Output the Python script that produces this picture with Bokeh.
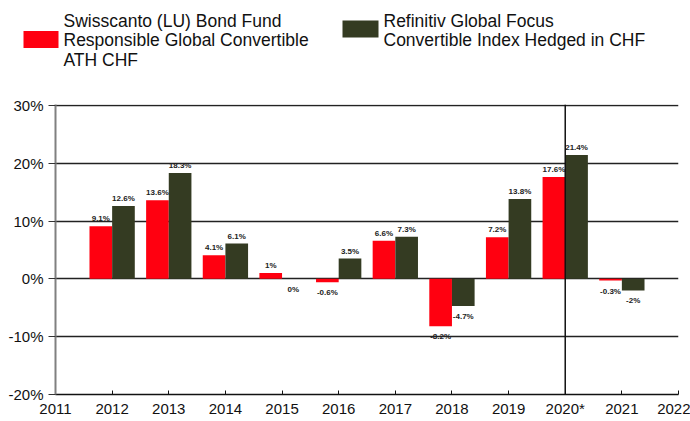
from bokeh.plotting import figure
from bokeh.layouts import column
from bokeh.models import Range1d, Span, FixedTicker, ColumnDataSource
from bokeh.transform import dodge
from bokeh.core.properties import value
from bokeh.embed import file_html
from bokeh.resources import INLINE

# ---- data ----
years = [2012, 2013, 2014, 2015, 2016, 2017, 2018, 2019, 2020, 2021]
fund = [9.1, 13.6, 4.1, 1.0, -0.6, 6.6, -8.2, 7.2, 17.6, -0.3]
index = [12.6, 18.3, 6.1, 0.0, 3.5, 7.3, -4.7, 13.8, 21.4, -2.0]
x_ticks = list(range(2011, 2023))
x_tick_labels = {2020: "2020*"}
y_ticks = [-20, -10, 0, 10, 20, 30]
fund_name = "Swisscanto (LU) Bond Fund\nResponsible Global Convertible\nATH CHF"
index_name = "Refinitiv Global Focus\nConvertible Index Hedged in CHF"

RED = "#FF0010"
OLIVE = "#343B22"
FONT = "Liberation Sans"
BORDER_L, BORDER_R = 55, 12
LEG_H = 90


def lbl(v):
    return f"{v:g}%"


def build_source(vals):
    return ColumnDataSource(dict(
        year=years,
        val=vals,
        lbl=[lbl(v) for v in vals],
        base=["bottom" if v > 0 else "top" for v in vals],
        yoff=[-3 if v > 0 else 6 for v in vals],
    ))


src_f = build_source(fund)
src_i = build_source(index)

# ---- legend strip (pixel coordinates; frame aligned with main frame) ----
leg = figure(width=690, height=LEG_H, output_backend="svg", toolbar_location=None,
             x_range=Range1d(BORDER_L, 690 - BORDER_R), y_range=Range1d(LEG_H, 0),
             x_axis_location=None,
             min_border_left=BORDER_L, min_border_right=BORDER_R,
             min_border_top=0, min_border_bottom=0)
leg.grid.visible = False
leg.outline_line_color = None
# red key swatch: reaches into the left margin, so it is drawn as the (only) axis tick
leg.yaxis.ticker = FixedTicker(ticks=[38.5])
leg.yaxis.major_label_overrides = {38.5: ""}
leg.yaxis.major_label_text_font_size = "0px"
leg.yaxis.axis_line_color = None
leg.yaxis.minor_tick_line_color = None
leg.yaxis.major_tick_out = 32
leg.yaxis.major_tick_in = 3
leg.yaxis.major_tick_line_color = RED
leg.yaxis.major_tick_line_width = 17
leg.yaxis.major_tick_line_cap = "butt"
leg.quad(left=[342], right=[378], top=[20], bottom=[37], fill_color=OLIVE, line_color=None)
leg.text(x=[63], y=[10], text=[fund_name], text_font=value(FONT), text_font_size="17.5px",
         text_baseline="top", text_line_height=0.98, text_color="#111111")
leg.text(x=[383], y=[10], text=[index_name], text_font=value(FONT), text_font_size="17.5px",
         text_baseline="top", text_line_height=0.98, text_color="#111111")

# ---- main figure ----
p = figure(width=690, height=421 - LEG_H, output_backend="svg", toolbar_location=None,
           x_range=Range1d(2011, 2022), y_range=Range1d(-20, 30.15),
           min_border_left=BORDER_L, min_border_right=BORDER_R,
           min_border_top=14, min_border_bottom=27)
p.outline_line_color = None
p.xgrid.visible = False
p.ygrid.ticker = FixedTicker(ticks=y_ticks)
p.ygrid.grid_line_color = "#222222"
p.ygrid.grid_line_width = 1.3

p.vbar(x=dodge("year", -0.2), top="val", bottom=0, width=0.4, source=src_f,
       fill_color=RED, line_color=None)
p.vbar(x=dodge("year", 0.2), top="val", bottom=0, width=0.4, source=src_i,
       fill_color=OLIVE, line_color=None)

for src, off in ((src_f, -0.2), (src_i, 0.2)):
    p.text(x=dodge("year", off), y="val", text="lbl", source=src,
           text_font=value(FONT), text_font_style="bold", text_font_size="8px",
           text_align="center", text_baseline="base", y_offset="yoff",
           text_color="#222222")

p.add_layout(Span(location=2020, dimension="height", line_color="#111111", line_width=1.5))

# axes
p.xaxis.ticker = FixedTicker(ticks=x_ticks)
p.xaxis.major_label_overrides = x_tick_labels
p.xaxis.major_label_text_font = FONT
p.xaxis.major_label_text_font_size = "15px"
p.xaxis.major_label_text_color = "#111111"
p.xaxis.major_label_standoff = 5
p.xaxis.axis_line_color = "#111111"
p.xaxis.axis_line_width = 1.3
p.xaxis.major_tick_in = 4
p.xaxis.major_tick_out = 0
p.xaxis.major_tick_line_color = "#111111"
p.xaxis.minor_tick_line_color = None

p.yaxis.ticker = FixedTicker(ticks=y_ticks)
p.yaxis.major_label_overrides = {t: f"{t}%" for t in y_ticks}
p.yaxis.major_label_text_font = FONT
p.yaxis.major_label_text_font_size = "15px"
p.yaxis.major_label_text_color = "#111111"
p.yaxis.major_label_standoff = 5
p.yaxis.axis_line_color = "#808080"
p.yaxis.axis_line_width = 2
p.yaxis.major_tick_in = 0
p.yaxis.major_tick_out = 7
p.yaxis.major_tick_line_color = "#333333"
p.yaxis.minor_tick_line_color = None

layout = column(leg, p, spacing=0)
open("out.html", "w").write(file_html(layout, INLINE))
